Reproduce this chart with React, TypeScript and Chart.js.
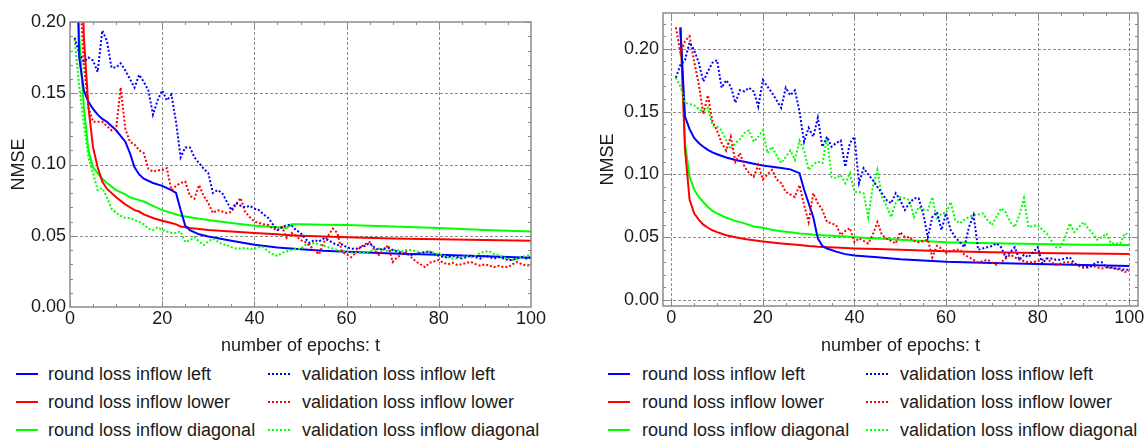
import React, { useEffect, useRef } from 'react';
import { Chart, registerables } from 'chart.js';

Chart.register(...registerables);

const FONT = '"Liberation Sans", Arial, Helvetica, sans-serif';
const TEXT = '#1a1a1a';
const BLUE = '#0000ff';
const RED = '#ff0000';
const GREEN = '#00ff00';

// ---------- categories / ticks ----------
const epochs = [
  1, 2, 3, 4, 5, 6, 7, 8, 9, 10, 11, 12, 13, 14, 15, 16, 17, 18, 19, 20,
  21, 22, 23, 24, 25, 26, 27, 28, 29, 30, 31, 32, 33, 34, 35, 36, 37, 38, 39, 40,
  41, 42, 43, 44, 45, 46, 47, 48, 49, 50, 51, 52, 53, 54, 55, 56, 57, 58, 59, 60,
  61, 62, 63, 64, 65, 66, 67, 68, 69, 70, 71, 72, 73, 74, 75, 76, 77, 78, 79, 80,
  81, 82, 83, 84, 85, 86, 87, 88, 89, 90, 91, 92, 93, 94, 95, 96, 97, 98, 99, 100,
];
const xTickValues = [0, 20, 40, 60, 80, 100];
const yTickValues = [0, 0.05, 0.1, 0.15, 0.2];

const solidLabels = ['round loss inflow left', 'round loss inflow lower', 'round loss inflow diagonal'];
const dottedLabels = ['validation loss inflow left', 'validation loss inflow lower', 'validation loss inflow diagonal'];

// ---------- left chart ----------
const solidEpochsL = [1, 2, 3, 4, 5, 6, 7, 8, 10, 12, 13, 14, 15, 16, 18, 20, 22, 23, 24, 25, 26, 28, 30, 35, 40, 45, 47, 48, 50, 55, 60, 70, 80, 90, 100];
const lossLeftL = [0.30, 0.175, 0.152, 0.144, 0.139, 0.135, 0.132, 0.130, 0.124, 0.116, 0.108, 0.098, 0.093, 0.090, 0.087, 0.085, 0.082, 0.080, 0.068, 0.057, 0.054, 0.051, 0.0495, 0.0465, 0.0437, 0.0418, 0.0413, 0.041, 0.0405, 0.0394, 0.0387, 0.0376, 0.0366, 0.0356, 0.0346];
const lossLowerL = [0.40, 0.30, 0.19, 0.14, 0.112, 0.098, 0.088, 0.083, 0.077, 0.072, 0.070, 0.068, 0.067, 0.065, 0.0625, 0.0605, 0.059, 0.058, 0.0565, 0.056, 0.0555, 0.0548, 0.054, 0.053, 0.052, 0.051, 0.0505, 0.0503, 0.050, 0.0495, 0.049, 0.048, 0.0475, 0.047, 0.0465];
const lossDiagL = [0.30, 0.19, 0.14, 0.110, 0.098, 0.094, 0.090, 0.087, 0.082, 0.079, 0.077, 0.076, 0.075, 0.074, 0.071, 0.068, 0.066, 0.065, 0.064, 0.0635, 0.063, 0.062, 0.061, 0.059, 0.057, 0.056, 0.0555, 0.058, 0.058, 0.0577, 0.0575, 0.0565, 0.0555, 0.054, 0.053];

const valLeftL = [
  0.189, 0.178, 0.172, 0.175, 0.173, 0.165, 0.194, 0.187, 0.168, 0.168,
  0.171, 0.166, 0.160, 0.154, 0.163, 0.158, 0.152, 0.135, 0.145, 0.152,
  0.145, 0.149, 0.130, 0.105, 0.112, 0.112, 0.105, 0.101, 0.097, 0.094,
  0.080, 0.082, 0.080, 0.074, 0.068, 0.073, 0.071, 0.070, 0.071, 0.069,
  0.068, 0.065, 0.0625, 0.058, 0.054, 0.056, 0.0575, 0.0575, 0.054, 0.052,
  0.048, 0.045, 0.047, 0.046, 0.048, 0.047, 0.045, 0.0435, 0.044, 0.042,
  0.041, 0.0407, 0.042, 0.043, 0.045, 0.042, 0.040, 0.041, 0.0414, 0.040,
  0.039, 0.038, 0.037, 0.0365, 0.037, 0.038, 0.0385, 0.039, 0.037, 0.036,
  0.035, 0.035, 0.036, 0.035, 0.034, 0.035, 0.036, 0.035, 0.034, 0.036,
  0.035, 0.034, 0.035, 0.034, 0.033, 0.033, 0.034, 0.035, 0.034, 0.035,
];
const valLowerL = [
  0.30, 0.23, 0.17, 0.140, 0.130, 0.130, 0.130, 0.127, 0.124, 0.125,
  0.154, 0.125, 0.116, 0.114, 0.110, 0.108, 0.097, 0.095, 0.096, 0.096,
  0.0975, 0.082, 0.085, 0.087, 0.088, 0.078, 0.076, 0.0856, 0.078, 0.073,
  0.066, 0.068, 0.067, 0.066, 0.0667, 0.072, 0.0765, 0.0667, 0.063, 0.060,
  0.059, 0.058, 0.0575, 0.055, 0.054, 0.056, 0.0484, 0.052, 0.050, 0.047,
  0.0456, 0.043, 0.040, 0.037, 0.045, 0.050, 0.055, 0.052, 0.0386, 0.037,
  0.035, 0.038, 0.042, 0.044, 0.0456, 0.040, 0.0365, 0.040, 0.0435, 0.0316,
  0.035, 0.037, 0.0386, 0.035, 0.032, 0.030, 0.028, 0.031, 0.032, 0.033,
  0.031, 0.030, 0.031, 0.0295, 0.030, 0.031, 0.0316, 0.030, 0.029, 0.030,
  0.029, 0.028, 0.029, 0.028, 0.028, 0.030, 0.0316, 0.030, 0.029, 0.0295,
];
const valDiagL = [
  0.188, 0.155, 0.128, 0.105, 0.094, 0.082, 0.0835, 0.077, 0.069, 0.066,
  0.064, 0.0625, 0.0625, 0.061, 0.0597, 0.058, 0.055, 0.054, 0.056, 0.054,
  0.053, 0.052, 0.052, 0.053, 0.0456, 0.047, 0.049, 0.046, 0.0435, 0.046,
  0.048, 0.046, 0.044, 0.0435, 0.042, 0.041, 0.041, 0.0415, 0.0407, 0.041,
  0.042, 0.042, 0.039, 0.037, 0.0358, 0.038, 0.039, 0.040, 0.0407, 0.0407,
  0.0435, 0.044, 0.045, 0.044, 0.043, 0.042, 0.041, 0.040, 0.039, 0.0386,
  0.038, 0.038, 0.038, 0.038, 0.039, 0.040, 0.041, 0.040, 0.039, 0.040,
  0.040, 0.039, 0.040, 0.040, 0.039, 0.038, 0.038, 0.039, 0.038, 0.037,
  0.036, 0.035, 0.034, 0.034, 0.035, 0.036, 0.035, 0.036, 0.038, 0.039,
  0.039, 0.037, 0.0365, 0.035, 0.034, 0.033, 0.034, 0.035, 0.036, 0.0365,
];

// ---------- right chart ----------
const solidEpochsR = [2, 3, 4, 5, 6, 7, 8, 9, 10, 12, 14, 16, 18, 20, 22, 24, 26, 28, 29, 30, 31, 32, 33, 34, 36, 38, 40, 45, 50, 60, 70, 80, 90, 100];
const lossLeftR = [0.217, 0.146, 0.136, 0.129, 0.125, 0.122, 0.1195, 0.1175, 0.116, 0.1135, 0.1115, 0.110, 0.1085, 0.107, 0.106, 0.105, 0.104, 0.101, 0.088, 0.077, 0.066, 0.049, 0.043, 0.041, 0.0385, 0.0365, 0.0355, 0.034, 0.0325, 0.0305, 0.0295, 0.0287, 0.0278, 0.027];
const lossLowerR = [0.217, 0.12, 0.080, 0.069, 0.064, 0.060, 0.0575, 0.0555, 0.054, 0.0515, 0.050, 0.0485, 0.0475, 0.0465, 0.0457, 0.045, 0.0443, 0.0437, 0.0434, 0.043, 0.0427, 0.0424, 0.0422, 0.042, 0.0417, 0.0413, 0.041, 0.0406, 0.040, 0.0388, 0.038, 0.0374, 0.037, 0.0366];
const lossDiagR = [0.217, 0.125, 0.098, 0.088, 0.082, 0.078, 0.074, 0.071, 0.069, 0.0655, 0.063, 0.061, 0.0585, 0.0575, 0.056, 0.0548, 0.054, 0.053, 0.0527, 0.0525, 0.052, 0.0517, 0.0515, 0.0513, 0.051, 0.0505, 0.050, 0.049, 0.048, 0.046, 0.0452, 0.0446, 0.044, 0.0438];

const valLeftR = [
  0.177, 0.187, 0.191, 0.205, 0.199, 0.189, 0.174, 0.182, 0.189, 0.191,
  0.169, 0.175, 0.170, 0.157, 0.167, 0.166, 0.169, 0.166, 0.154, 0.175,
  0.170, 0.165, 0.159, 0.153, 0.169, 0.163, 0.167, 0.150, 0.126, 0.137,
  0.130, 0.145, 0.122, 0.130, 0.122, 0.125, 0.127, 0.106, 0.125, 0.130,
  0.093, 0.105, 0.100, 0.0955, 0.090, 0.085, 0.0796, 0.077, 0.085, 0.0796,
  0.0716, 0.077, 0.081, 0.081, 0.069, 0.050, 0.066, 0.070, 0.0557, 0.069,
  0.0557, 0.050, 0.046, 0.042, 0.058, 0.0677, 0.040, 0.041, 0.042, 0.043,
  0.045, 0.042, 0.034, 0.038, 0.042, 0.032, 0.036, 0.034, 0.038, 0.042,
  0.029, 0.033, 0.033, 0.032, 0.032, 0.033, 0.034, 0.029, 0.028, 0.027,
  0.026, 0.028, 0.030, 0.030, 0.026, 0.026, 0.025, 0.025, 0.024, 0.024,
];
const valLowerR = [
  0.217, 0.197, 0.206, 0.210, 0.190, 0.172, 0.148, 0.163, 0.142, 0.135,
  0.125, 0.119, 0.130, 0.110, 0.117, 0.106, 0.101, 0.098, 0.1075, 0.096,
  0.100, 0.1035, 0.096, 0.093, 0.086, 0.084, 0.082, 0.0915, 0.0756, 0.062,
  0.085, 0.077, 0.0716, 0.062, 0.061, 0.0597, 0.0517, 0.055, 0.0573, 0.046,
  0.049, 0.047, 0.045, 0.052, 0.062, 0.0517, 0.049, 0.047, 0.045, 0.054,
  0.050, 0.050, 0.047, 0.046, 0.047, 0.048, 0.034, 0.043, 0.041, 0.0374,
  0.039, 0.040, 0.040, 0.036, 0.034, 0.032, 0.030, 0.031, 0.032, 0.030,
  0.028, 0.030, 0.033, 0.036, 0.034, 0.032, 0.031, 0.030, 0.030, 0.031,
  0.032, 0.033, 0.030, 0.028, 0.029, 0.030, 0.030, 0.028, 0.027, 0.0255,
  0.026, 0.027, 0.026, 0.025, 0.026, 0.0255, 0.025, 0.024, 0.0223, 0.023,
];
const valDiagR = [
  0.177, 0.170, 0.157, 0.156, 0.155, 0.152, 0.150, 0.153, 0.139, 0.138,
  0.135, 0.127, 0.120, 0.125, 0.128, 0.133, 0.135, 0.126, 0.130, 0.135,
  0.117, 0.122, 0.115, 0.109, 0.114, 0.119, 0.1115, 0.127, 0.119, 0.1035,
  0.108, 0.110, 0.109, 0.129, 0.098, 0.097, 0.0995, 0.093, 0.101, 0.086,
  0.086, 0.085, 0.066, 0.090, 0.1035, 0.082, 0.075, 0.066, 0.077, 0.082,
  0.081, 0.0796, 0.066, 0.074, 0.072, 0.0716, 0.082, 0.0637, 0.069, 0.069,
  0.078, 0.0637, 0.061, 0.064, 0.066, 0.0677, 0.068, 0.069, 0.064, 0.0597,
  0.066, 0.073, 0.070, 0.062, 0.058, 0.0677, 0.081, 0.058, 0.059, 0.0597,
  0.056, 0.053, 0.047, 0.042, 0.042, 0.050, 0.061, 0.054, 0.058, 0.062,
  0.057, 0.053, 0.048, 0.050, 0.053, 0.045, 0.045, 0.045, 0.053, 0.052,
];

// ---------- helpers ----------
const pts = (xs: number[], ys: number[]) => xs.map((x, i) => ({ x, y: ys[i] }));

function buildDatasets(
  solidX: number[],
  solid: number[][],
  dotted: number[][],
) {
  const colors = [BLUE, RED, GREEN];
  const out: any[] = [];
  dotted.forEach((vals, i) => {
    out.push({
      label: dottedLabels[i],
      data: pts(epochs, vals),
      borderColor: colors[i],
      borderWidth: 2,
      borderDash: [2, 2],
      pointRadius: 0,
      fill: false,
    });
  });
  solid.forEach((vals, i) => {
    out.push({
      label: solidLabels[i],
      data: pts(solidX, vals),
      borderColor: colors[i],
      borderWidth: 2,
      pointRadius: 0,
      fill: false,
    });
  });
  return out;
}

const framePlugin = {
  id: 'mmaFrame',
  beforeDatasetsDraw(chart: any) {
    const { ctx, chartArea: a } = chart;
    const xs = chart.scales.x;
    const ys = chart.scales.y;
    ctx.save();
    ctx.strokeStyle = '#8c8c8c';
    ctx.lineWidth = 1;
    ctx.setLineDash([3, 2]);
    ctx.beginPath();
    xTickValues.forEach((v) => {
      const p = Math.round(xs.getPixelForValue(v)) + 0.5;
      if (p > a.left + 2 && p < a.right - 2) {
        ctx.moveTo(p, a.top);
        ctx.lineTo(p, a.bottom);
      }
    });
    yTickValues.forEach((v) => {
      const p = Math.round(ys.getPixelForValue(v)) + 0.5;
      if (p > a.top + 2 && p < a.bottom - 2) {
        ctx.moveTo(a.left, p);
        ctx.lineTo(a.right, p);
      }
    });
    ctx.stroke();
    ctx.restore();
  },
  afterDatasetsDraw(chart: any) {
    const { ctx, chartArea: a } = chart;
    const xs = chart.scales.x;
    const ys = chart.scales.y;
    ctx.save();
    ctx.strokeStyle = '#888888';
    ctx.lineWidth = 1;
    ctx.setLineDash([]);
    ctx.beginPath();
    for (let k = 0; k <= 20; k++) {
      const v = k * 5;
      const p = Math.round(xs.getPixelForValue(v)) + 0.5;
      if (p < a.left || p > a.right) continue;
      const len = k % 4 === 0 ? 6 : 3;
      ctx.moveTo(p, a.bottom);
      ctx.lineTo(p, a.bottom - len);
      ctx.moveTo(p, a.top);
      ctx.lineTo(p, a.top + len);
    }
    for (let k = 0; k <= 22; k++) {
      const v = k / 100;
      const p = Math.round(ys.getPixelForValue(v)) + 0.5;
      if (p < a.top || p > a.bottom) continue;
      const len = k % 5 === 0 ? 6 : 3;
      ctx.moveTo(a.left, p);
      ctx.lineTo(a.left + len, p);
      ctx.moveTo(a.right, p);
      ctx.lineTo(a.right - len, p);
    }
    ctx.stroke();
    ctx.strokeStyle = '#8a8a8a';
    ctx.lineWidth = 1.5;
    ctx.strokeRect(a.left, a.top, a.right - a.left, a.bottom - a.top);
    ctx.restore();
  },
};

type Cfg = {
  left: number;
  width: number;
  height: number;
  padTop: number;
  padRight: number;
  yAxisWidth: number;
  xAxisHeight: number;
  xMin: number;
  xMax: number;
  yMin: number;
  yMax: number;
  yTitlePad: number;
  yTickPad: number;
  datasets: any[];
};

function LossChart({ cfg }: { cfg: Cfg }) {
  const ref = useRef<HTMLCanvasElement>(null);
  useEffect(() => {
    const tickFont = { family: FONT, size: 18 };
    const chart = new Chart(ref.current as HTMLCanvasElement, {
      type: 'line',
      data: { datasets: cfg.datasets },
      options: {
        responsive: false,
        animation: false,
        events: [],
        layout: { padding: { left: 0, top: cfg.padTop, right: cfg.padRight, bottom: 0 } },
        plugins: { legend: { display: false }, tooltip: { enabled: false } },
        elements: { line: { tension: 0 }, point: { radius: 0 } },
        scales: {
          x: {
            type: 'linear',
            min: cfg.xMin,
            max: cfg.xMax,
            grid: { display: false, drawTicks: false },
            border: { display: false },
            afterBuildTicks: (s: any) => {
              s.ticks = xTickValues.map((value) => ({ value }));
            },
            afterFit: (s: any) => {
              s.height = cfg.xAxisHeight;
              s.paddingLeft = 0;
              s.paddingRight = 0;
            },
            ticks: {
              autoSkip: false,
              maxRotation: 0,
              padding: 1,
              color: TEXT,
              font: tickFont,
              callback: (v: any) => String(v),
            },
            title: {
              display: true,
              text: 'number of epochs: t',
              color: TEXT,
              font: tickFont,
              padding: { top: 0, bottom: 3 },
            },
          },
          y: {
            type: 'linear',
            min: cfg.yMin,
            max: cfg.yMax,
            grid: { display: false, drawTicks: false },
            border: { display: false },
            afterBuildTicks: (s: any) => {
              s.ticks = yTickValues.map((value) => ({ value }));
            },
            afterFit: (s: any) => {
              s.width = cfg.yAxisWidth;
              s.paddingTop = 0;
              s.paddingBottom = 0;
            },
            ticks: {
              autoSkip: false,
              padding: cfg.yTickPad,
              color: TEXT,
              font: tickFont,
              callback: (v: any) => Number(v).toFixed(2),
            },
            title: {
              display: true,
              text: 'NMSE',
              color: TEXT,
              font: tickFont,
              padding: { top: cfg.yTitlePad, bottom: 0 },
            },
          },
        },
      } as any,
      plugins: [framePlugin],
    });
    return () => chart.destroy();
  }, []);
  return (
    <canvas
      ref={ref}
      width={cfg.width}
      height={cfg.height}
      style={{ position: 'absolute', left: cfg.left, top: 0, width: cfg.width, height: cfg.height }}
    />
  );
}

const legendRowsY = [374, 402, 430];
const legendColors = [BLUE, RED, GREEN];

function Legend({ x1, t1, x2, t2 }: { x1: number; t1: number; x2: number; t2: number }) {
  const textStyle = (left: number, y: number): React.CSSProperties => ({
    position: 'absolute',
    left,
    top: y - 11,
    height: 22,
    lineHeight: '22px',
    fontFamily: FONT,
    fontSize: 18,
    color: TEXT,
    whiteSpace: 'nowrap',
  });
  return (
    <>
      {legendRowsY.map((y, i) => (
        <React.Fragment key={i}>
          <div style={{ position: 'absolute', left: x1, top: y - 1, width: 22, height: 0, borderTop: `2px solid ${legendColors[i]}` }} />
          <div style={textStyle(t1, y)}>{solidLabels[i]}</div>
          <div style={{ position: 'absolute', left: x2, top: y - 1, width: 22, height: 0, borderTop: `2px dotted ${legendColors[i]}` }} />
          <div style={textStyle(t2, y)}>{dottedLabels[i]}</div>
        </React.Fragment>
      ))}
    </>
  );
}

const leftCfg: Cfg = {
  left: 0,
  width: 560,
  height: 360,
  padTop: 22,
  padRight: 29,
  yAxisWidth: 70,
  xAxisHeight: 53,
  xMin: 0,
  xMax: 100,
  yMin: 0,
  yMax: 0.2,
  yTitlePad: 8,
  yTickPad: 4,
  datasets: buildDatasets(solidEpochsL, [lossLeftL, lossLowerL, lossDiagL], [valLeftL, valLowerL, valDiagL]),
};

const rightCfg: Cfg = {
  left: 560,
  width: 585,
  height: 360,
  padTop: 13,
  padRight: 7,
  yAxisWidth: 103,
  xAxisHeight: 54,
  xMin: -1.8,
  xMax: 101.9,
  yMin: -0.0048,
  yMax: 0.2285,
  yTitlePad: 37,
  yTickPad: 4,
  datasets: buildDatasets(solidEpochsR, [lossLeftR, lossLowerR, lossDiagR], [valLeftR, valLowerR, valDiagR]),
};

export default function App() {
  return (
    <div style={{ position: 'absolute', left: 0, top: 0, width: 1145, height: 442, background: '#ffffff', overflow: 'hidden' }}>
      <LossChart cfg={leftCfg} />
      <LossChart cfg={rightCfg} />
      <Legend x1={16} t1={48} x2={268} t2={302} />
      <Legend x1={608} t1={642} x2={866} t2={900} />
    </div>
  );
}
